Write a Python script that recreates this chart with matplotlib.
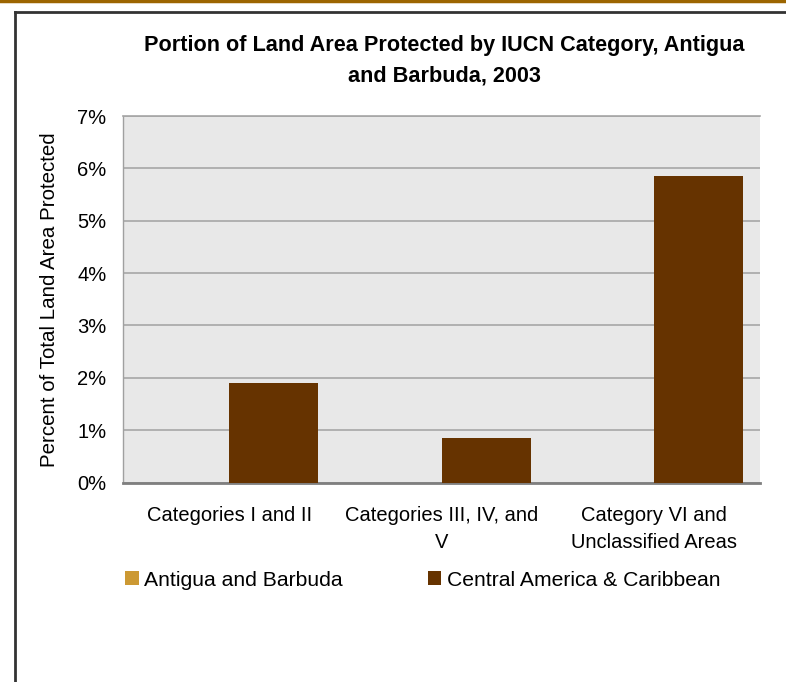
import matplotlib
matplotlib.use("Agg")
import matplotlib.pyplot as plt
import numpy as np
from matplotlib.lines import Line2D
from matplotlib.patches import Patch

categories = ["Categories I and II", "Categories III, IV, and\nV", "Category VI and\nUnclassified Areas"]
antigua = [0.0, 0.0, 0.0]
central_america = [1.90, 0.85, 5.86]
yticks = [0, 1, 2, 3, 4, 5, 6, 7]
ytick_labels = ["0%", "1%", "2%", "3%", "4%", "5%", "6%", "7%"]
title = "Portion of Land Area Protected by IUCN Category, Antigua\nand Barbuda, 2003"
ylabel = "Percent of Total Land Area Protected"
series_names = ["Antigua and Barbuda", "Central America & Caribbean"]
colors = ["#CC9933", "#663300"]

plt.rcParams['font.family'] = ['Liberation Sans', 'DejaVu Sans']

fig = plt.figure(figsize=(7.86, 6.82), dpi=100)
ax = fig.add_axes([123/786, 1-482.5/682, (760-123)/786, (482.5-116)/682])

x = np.arange(len(categories))
w = 0.42
ax.bar(x - w/2, antigua, width=w, color=colors[0], zorder=3)
ax.bar(x + w/2, central_america, width=w, color=colors[1], zorder=3)

ax.set_xlim(-0.5, 2.5)
ax.set_ylim(0, 7)
ax.set_facecolor("#E8E8E8")
ax.set_yticks(yticks)
ax.set_yticklabels(ytick_labels, fontsize=14.5)
ax.set_xticks(x)
ax.set_xticklabels(categories, fontsize=14.5, linespacing=1.5)
ax.tick_params(axis='both', length=0)
ax.tick_params(axis='y', pad=12)
ax.tick_params(axis='x', pad=17)
ax.yaxis.grid(True, color="#A6A6A6", linewidth=1.2, zorder=0)
ax.set_axisbelow(True)
ax.spines["right"].set_visible(False)
ax.spines["top"].set_color("#A6A6A6")
ax.spines["top"].set_linewidth(1.2)
ax.spines["left"].set_color("#A0A0A0")
ax.spines["left"].set_linewidth(1.0)
ax.spines["bottom"].set_color("#7F7F7F")
ax.spines["bottom"].set_linewidth(2.0)
ax.set_ylabel(ylabel, fontsize=14.8, labelpad=13)

fig.text(444/786, 1-60.5/682, title, ha="center", va="center", fontsize=15.6,
         fontweight="bold", linespacing=1.6)

handles = [Patch(facecolor=c, edgecolor="none") for c in colors]
leg = fig.legend(handles, series_names, loc="center left", bbox_to_anchor=(117/786, 1-580/682),
                 ncol=2, frameon=False, fontsize=15.2, handlelength=0.65, handleheight=0.65,
                 handletextpad=0.25, columnspacing=4.0, borderaxespad=0)

# decorative frame
fig.add_artist(Line2D([0, 1], [1-1/682, 1-1/682], transform=fig.transFigure, color="#9C6500", linewidth=2.5))
fig.add_artist(Line2D([15/786, 1], [1-12/682, 1-12/682], transform=fig.transFigure, color="#333333", linewidth=2))
fig.add_artist(Line2D([15/786, 15/786], [1-12/682, 0], transform=fig.transFigure, color="#333333", linewidth=2))

fig.savefig("out.png", dpi=100, facecolor="white")
